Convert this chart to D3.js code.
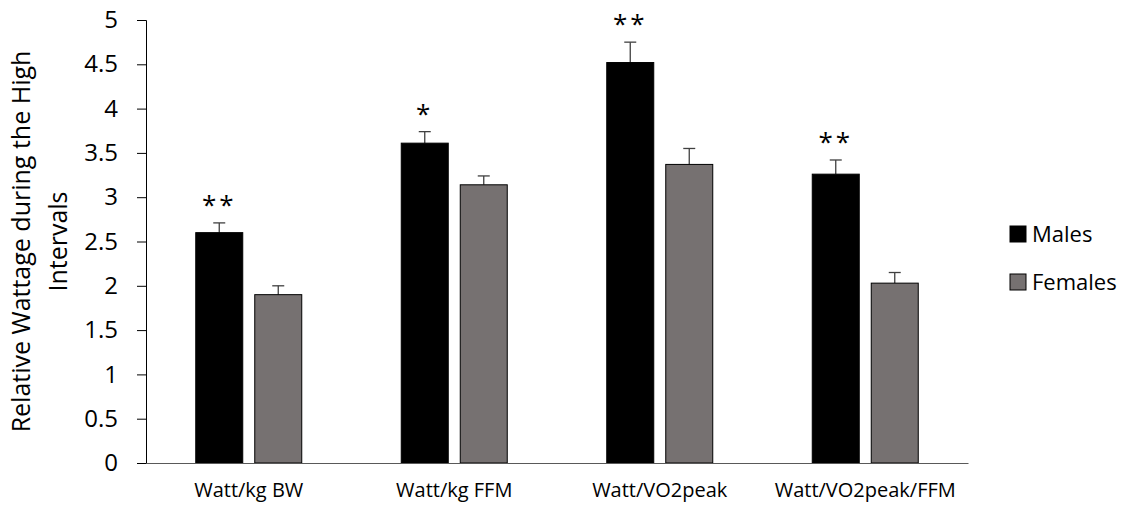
<!DOCTYPE html>
<html>
<head>
<meta charset="utf-8">
<script src="https://cdn.jsdelivr.net/npm/d3@7"></script>
<style>
  body { margin: 0; background: #fff; }
  svg { font-family: "Open Sans", Carlito, sans-serif; }
</style>
</head>
<body>
<script>
// data
var categories = ["Watt/kg BW", "Watt/kg FFM", "Watt/VO2peak", "Watt/VO2peak/FFM"];
var seriesNames = ["Males", "Females"];
var males = [2.60, 3.61, 4.52, 3.26];
var malesErr = [0.11, 0.13, 0.23, 0.16];
var females = [1.90, 3.14, 3.37, 2.03];
var femalesErr = [0.10, 0.10, 0.18, 0.12];
var marks = ["**", "*", "**", "**"];
var yTicks = [0, 0.5, 1, 1.5, 2, 2.5, 3, 3.5, 4, 4.5, 5];

var colors = ["#000000", "#767171"];
var font = "'Open Sans', Carlito, sans-serif";

var W = 1125, H = 508;
var margin = {top: 20, right: 157, bottom: 45, left: 146};
var width = W - margin.left - margin.right,
    height = H - margin.top - margin.bottom;

var svg = d3.select("body").append("svg")
  .attr("width", W)
  .attr("height", H);

var g = svg.append("g")
  .attr("transform", "translate(" + margin.left + "," + margin.top + ")");

var x = d3.scaleBand().domain(categories).range([0, width]);
var y = d3.scaleLinear().domain([0, 5]).range([height, 0]);

var barW = 47, gap = 12;

// build rows
var rows = [];
categories.forEach(function(c, i) {
  rows.push({cat: c, s: 0, v: males[i], e: malesErr[i]});
  rows.push({cat: c, s: 1, v: females[i], e: femalesErr[i]});
});

function barX(d) {
  var c = x(d.cat) + x.bandwidth() / 2;
  return d.s == 0 ? c - gap / 2 - barW : c + gap / 2;
}

// error bars (upper half only)
var eb = g.append("g");
rows.forEach(function(d) {
  var cx = barX(d) + barW / 2;
  eb.append("line")
    .attr("x1", cx).attr("x2", cx)
    .attr("y1", y(d.v)).attr("y2", y(d.v + d.e))
    .attr("stroke", "#404040").attr("stroke-width", 1.3);
  eb.append("line")
    .attr("x1", cx - 6).attr("x2", cx + 6)
    .attr("y1", y(d.v + d.e)).attr("y2", y(d.v + d.e))
    .attr("stroke", "#404040").attr("stroke-width", 1.3);
});

// bars
g.selectAll("rect.bar")
  .data(rows)
  .enter().append("rect")
  .attr("class", "bar")
  .attr("x", barX)
  .attr("y", function(d) { return y(d.v); })
  .attr("width", barW)
  .attr("height", function(d) { return y(0) - y(d.v); })
  .attr("fill", function(d) { return colors[d.s]; })
  .attr("stroke", "#000")
  .attr("stroke-width", 1);

// significance marks
g.selectAll("text.mark")
  .data(categories)
  .enter().append("text")
  .attr("class", "mark")
  .attr("x", function(c) { return x(c) + x.bandwidth() / 2 - gap / 2 - barW / 2; })
  .attr("y", function(c, i) { return y(males[i] + malesErr[i]) - 9; })
  .attr("text-anchor", "middle")
  .attr("font-size", "26px")
  .attr("font-family", font)
  .attr("letter-spacing", "3px")
  .text(function(c, i) { return marks[i]; });

// Y axis
var yAxis = g.append("g")
  .call(d3.axisLeft(y).tickValues(yTicks).tickSize(9).tickPadding(19)
    .tickFormat(function(d) { return d; }));
yAxis.select(".domain").attr("stroke", "#000").attr("stroke-width", 1);
yAxis.selectAll(".tick line").attr("stroke", "#000");
yAxis.selectAll(".tick text").attr("font-size", "24px").attr("fill", "#000")
  .attr("font-family", font);

// X axis
var xAxis = g.append("g")
  .attr("transform", "translate(0," + height + ")")
  .call(d3.axisBottom(x).tickSize(0).tickPadding(20));
xAxis.select(".domain").attr("stroke", "#595959").attr("stroke-width", 1.2);
xAxis.selectAll(".tick text").attr("font-size", "20px").attr("fill", "#000")
  .attr("font-family", font);

// Y title
var yt = svg.append("text")
  .attr("transform", "translate(0," + (margin.top + height / 2) + ") rotate(-90)")
  .attr("text-anchor", "middle")
  .attr("font-size", "25px")
  .attr("font-family", font)
  .attr("fill", "#000");
yt.append("tspan").attr("x", 0).attr("y", 30).text("Relative Wattage during the High");
yt.append("tspan").attr("x", 0).attr("y", 67).text("Intervals");

// legend
var leg = svg.append("g").attr("transform", "translate(1010,0)");
seriesNames.forEach(function(n, i) {
  var cy = 234 + i * 48;
  leg.append("rect")
    .attr("x", 0).attr("y", cy - 8)
    .attr("width", 16).attr("height", 16)
    .attr("fill", colors[i]).attr("stroke", "#000").attr("stroke-width", 1);
  leg.append("text")
    .attr("x", 22).attr("y", cy + 8)
    .attr("font-size", "22px")
    .attr("font-family", font)
    .attr("fill", "#000")
    .text(n);
});
</script>
</body>
</html>
